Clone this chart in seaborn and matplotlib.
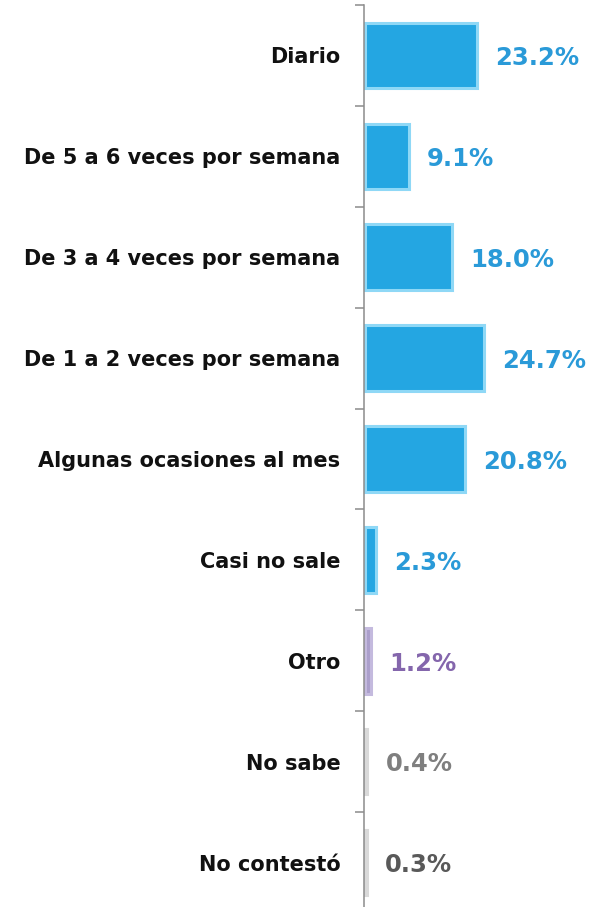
import numpy as np
import pandas as pd
import matplotlib
matplotlib.use("Agg")
import matplotlib.pyplot as plt
import seaborn as sns

# data
categories = ["Diario", "De 5 a 6 veces por semana", "De 3 a 4 veces por semana",
              "De 1 a 2 veces por semana", "Algunas ocasiones al mes", "Casi no sale",
              "Otro", "No sabe", "No contestó"]
values = [23.2, 9.1, 18.0, 24.7, 20.8, 2.3, 1.2, 0.4, 0.3]

bar_colors = ["#24a6e2"] * 6 + ["#ab9fcb", "#c8c8c8", "#c8c8c8"]
edge_colors = ["#8fd8f6"] * 6 + ["#c4bade", "#d9d9d9", "#d9d9d9"]
text_colors = ["#2a9ad8"] * 6 + ["#8466ac", "#7f7f7f", "#595959"]

df = pd.DataFrame({"cat": categories, "val": values})

sns.set_style("white")
plt.rcParams["font.family"] = ["DejaVu Sans"]

fig = plt.figure(figsize=(6.02, 9.07), dpi=100)
# axis line sits at x=364px, category boundaries every ~101px starting at y=5
ax = fig.add_axes([364 / 602, -6 / 907, 238 / 602, 908 / 907])

sns.barplot(data=df, x="val", y="cat", hue="cat", palette=bar_colors,
            saturation=1, legend=False, width=0.65, orient="h", ax=ax)

for patch, ec in zip(ax.patches, edge_colors):
    patch.set_edgecolor(ec)
    patch.set_linewidth(2.2)

ax.set_xlim(-0.3, 238 / 4.8 - 0.3)
ax.set_ylim(8.5, -0.5)

for side in ["top", "right", "bottom"]:
    ax.spines[side].set_visible(False)
ax.spines["left"].set_position(("data", -0.3))
ax.spines["left"].set_color("#8c8c8c")
ax.spines["left"].set_linewidth(1.1)

for i, (v, c) in enumerate(zip(values, text_colors)):
    ax.annotate(f"{v:.1f}%", xy=(v, i), xytext=(13, -2), textcoords="offset points",
                ha="left", va="center", fontsize=17.5, fontweight="bold", color=c)

ax.set_xlabel("")
ax.set_ylabel("")
ax.set_xticks([])
ax.set_yticks(range(len(categories)))
ax.set_yticklabels(categories, fontsize=15, fontweight="bold", color="#111111")
ax.set_yticks(np.arange(-0.5, 9.0, 1), minor=True)
ax.tick_params(axis="y", which="major", length=0, pad=17)
ax.tick_params(axis="y", which="minor", length=6.5, width=1.1, color="#8c8c8c",
               direction="out", left=True)

fig.savefig("out.png", dpi=100)
